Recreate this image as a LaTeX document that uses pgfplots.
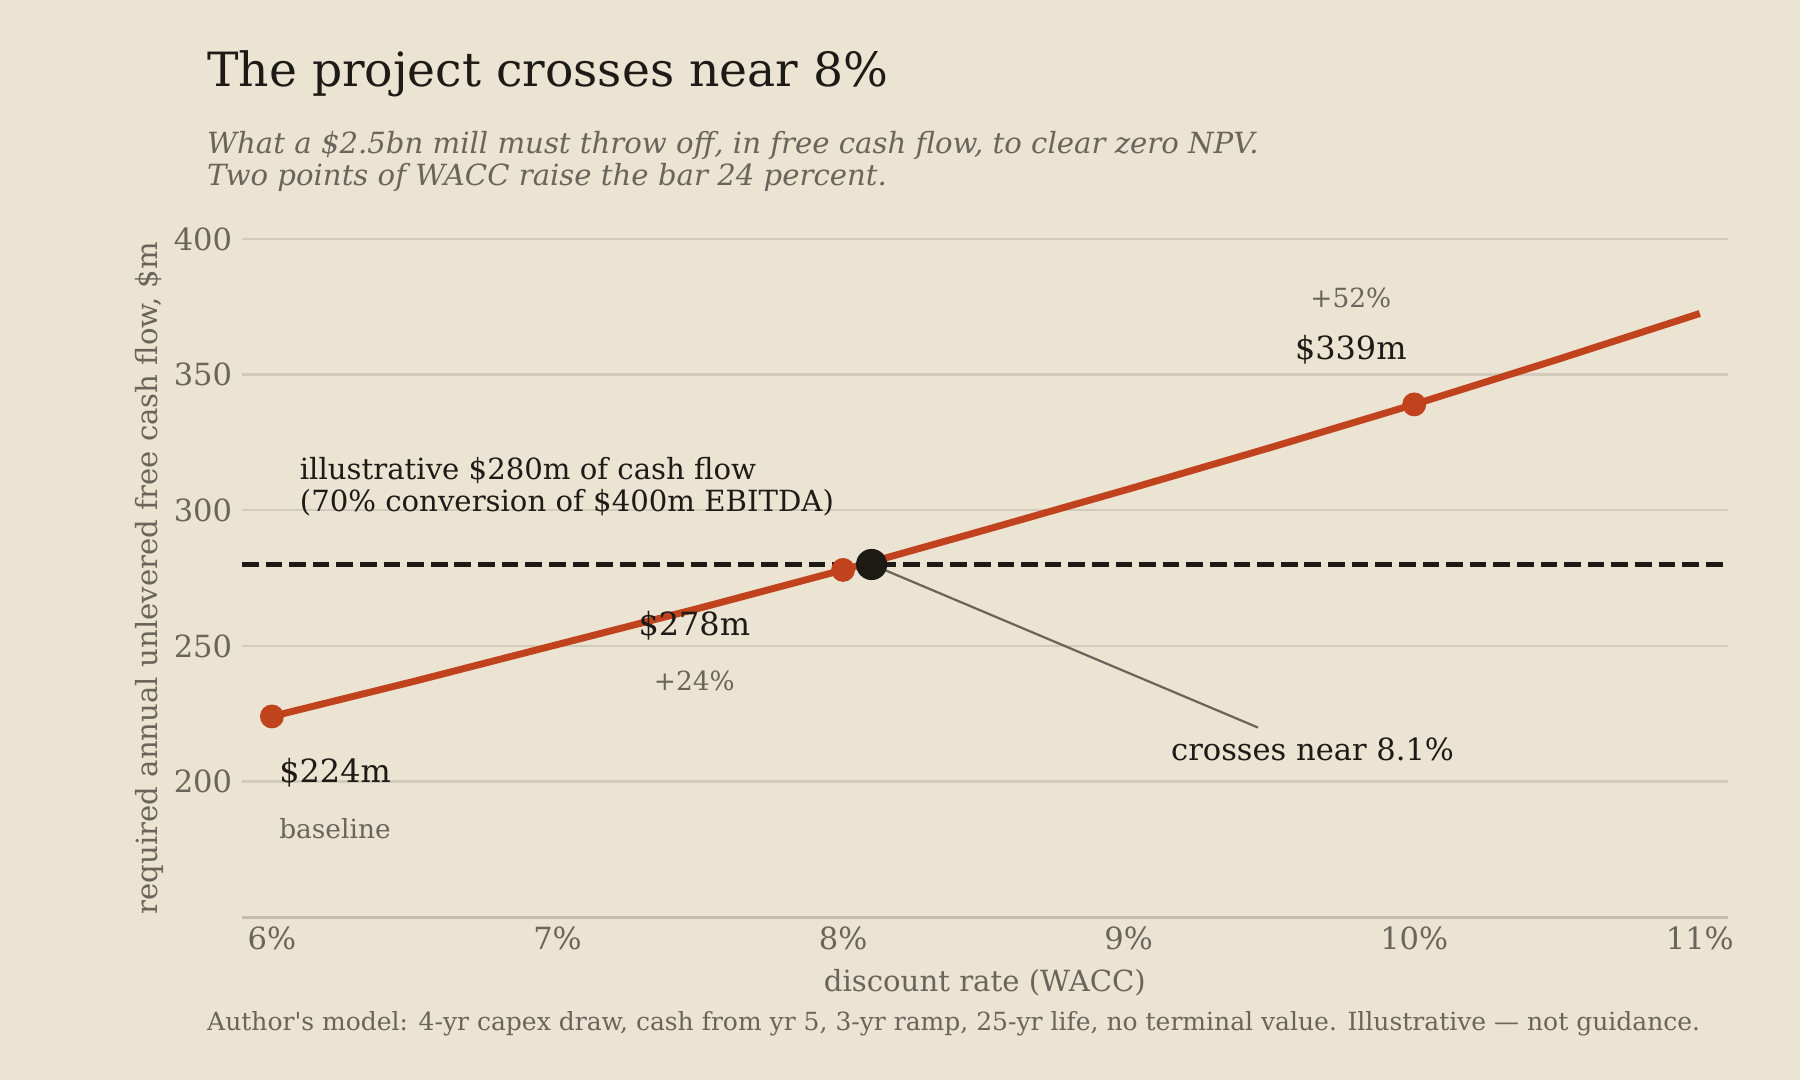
\documentclass[border=0pt]{standalone}
\usepackage{fontspec}
\setmainfont{DejaVu Serif}
\usepackage{pgfplots}
\pgfplotsset{compat=1.18}
\definecolor{bg}{HTML}{EBE4D3}
\definecolor{rust}{HTML}{C1431D}
\definecolor{ink}{HTML}{1E1A16}
\definecolor{muted}{HTML}{6B645A}
\definecolor{gridc}{HTML}{D2CABA}
\definecolor{spine}{HTML}{C6BEAE}
\begin{document}
\begin{tikzpicture}
\fill[bg] (0,0) rectangle (648pt,388.8pt);
\useasboundingbox (0,0) rectangle (648pt,388.8pt);
\node[anchor=base west, inner sep=0, text=ink, font=\fontsize{17}{20}\selectfont] at (74.4pt,357.8pt) {The project crosses near 8\%};
\node[anchor=base west, inner sep=0, text=muted, font=\fontsize{10.5}{12}\selectfont\itshape] at (74.4pt,333.6pt) {What a \$2.5bn mill must throw off, in free cash flow, to clear zero NPV.};
\node[anchor=base west, inner sep=0, text=muted, font=\fontsize{10.5}{12}\selectfont\itshape] at (74.4pt,322.0pt) {Two points of WACC raise the bar 24 percent.};
\node[anchor=base west, inner sep=0, text=muted, font=\fontsize{9}{11}\selectfont] at (74.4pt,17.7pt) {Author\textquotesingle s model: 4-yr capex draw, cash from yr 5, 3-yr ramp, 25-yr life, no terminal value. Illustrative — not guidance.};
\begin{axis}[
  at={(87.1pt,58.6pt)}, anchor=south west,
  scale only axis, width=534.9pt, height=244.2pt,
  xmin=5.895, xmax=11.098, ymin=150, ymax=400,
  clip=false,
  axis line style={draw=none},
  xtick={6,7,8,9,10,11},
  xticklabels={6\%,7\%,8\%,9\%,10\%,11\%},
  ytick={200,250,300,350,400},
  major tick length=0pt,
  ymajorgrids, grid style={gridc, line width=0.8pt},
  tick label style={text=muted, font=\fontsize{11}{13}\selectfont},
  /pgf/number format/assume math mode=true,
  xlabel={discount rate (WACC)},
  ylabel={required annual unlevered free cash flow, \$m},
  label style={text=muted, font=\fontsize{10.5}{12.5}\selectfont},
  ylabel style={xshift=0pt, yshift=-3pt},
]
\draw[spine, line width=1.2pt] (rel axis cs:0,0) -- (rel axis cs:1,0);
\addplot[ink, line width=1.7pt, dash pattern=on 6pt off 2.5pt, forget plot] coordinates {(5.895,280) (11.098,280)};
\addplot[rust, line width=2.5pt, line join=round, forget plot] coordinates {
(6,224) (6.5,237) (7,250.5) (7.5,264) (8,278) (8.5,292.8) (9,307.8) (9.5,323.2) (10,339) (10.5,355.5) (11,372.5)};
\addplot[only marks, mark=*, mark size=4.1pt, mark options={fill=rust, draw=rust}, forget plot] coordinates {(6,224) (8,278) (10,339)};
\addplot[muted, line width=0.8pt, forget plot] coordinates {(8.1,280) (9.453,219.9)};
\addplot[only marks, mark=*, mark size=5.4pt, mark options={fill=ink, draw=ink}, forget plot] coordinates {(8.1,280)};
\node[anchor=west, text=ink, font=\fontsize{11.5}{13}\selectfont, inner sep=0] at (axis cs:6.024,203.4) {\$224m};
\node[anchor=west, text=muted, font=\fontsize{9.5}{11}\selectfont, inner sep=0] at (axis cs:6.024,182.7) {baseline};
\node[text=ink, font=\fontsize{11.5}{13}\selectfont, inner sep=0] at (axis cs:7.479,257.5) {\$278m};
\node[text=muted, font=\fontsize{9.5}{11}\selectfont, inner sep=0] at (axis cs:7.479,237.2) {+24\%};
\node[text=ink, font=\fontsize{11.5}{13}\selectfont, inner sep=0] at (axis cs:9.778,359) {\$339m};
\node[text=muted, font=\fontsize{9.5}{11}\selectfont, inner sep=0] at (axis cs:9.778,378.4) {+52\%};
\node[anchor=west, text=ink, font=\fontsize{10.5}{13}\selectfont, inner sep=0] at (axis cs:6.096,314.6) {illustrative \$280m of cash flow};
\node[anchor=west, text=ink, font=\fontsize{10.5}{13}\selectfont, inner sep=0] at (axis cs:6.096,302.7) {(70\% conversion of \$400m EBITDA)};
\node[anchor=west, text=ink, font=\fontsize{11}{13}\selectfont, inner sep=0] at (axis cs:9.147,211.8) {crosses near 8.1\%};
\end{axis}
\end{tikzpicture}
\end{document}
